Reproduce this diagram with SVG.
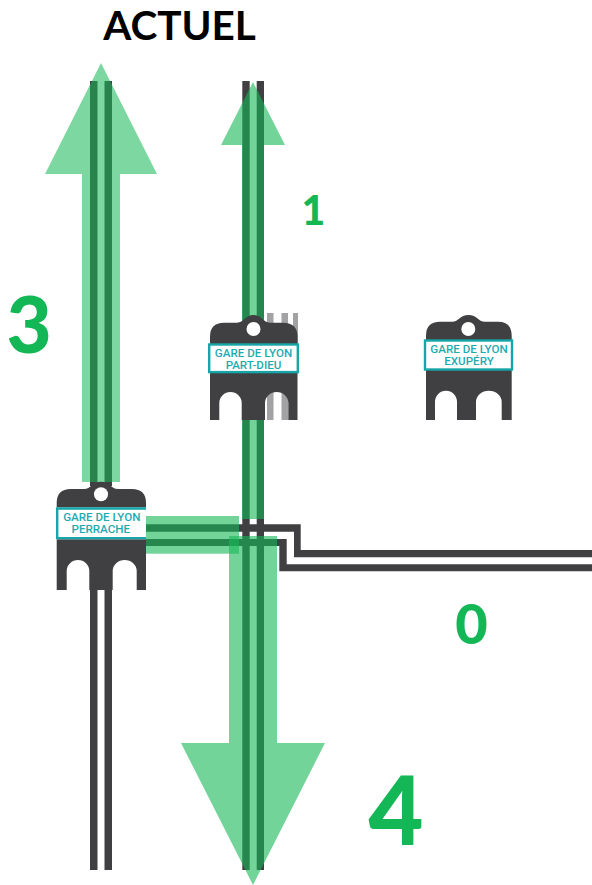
<svg xmlns="http://www.w3.org/2000/svg" width="592" height="885" viewBox="0 0 592 885">
<style>
.rail{fill:#404042}
.gray{fill:#a2a2a4}
.green{fill:#16b856;fill-opacity:.6}
.greenl{fill:#16b856;fill-opacity:.56}
.body{fill:#404042}
.hole{fill:#fff}
.label{fill:#fff}
.edge{fill:none;stroke:#16a5a8;stroke-width:2.4}
.lt{font-family:"Roboto","Liberation Sans",sans-serif;font-weight:500;font-size:11.6px;fill:#1eabb0;text-anchor:middle}
.num{font-family:"Lato","Open Sans",sans-serif;font-weight:900;fill:#14b755;text-anchor:middle}
</style>
<text x="179.500" y="39.500" font-family="Lato,'Open Sans',sans-serif" font-weight="700" font-size="40.500" fill="#000" text-anchor="middle">ACTUEL</text>
<g id="connectors">
<rect class="gray" x="267" y="313" width="6.500" height="107"/>
<rect class="gray" x="281.500" y="313" width="6.500" height="107"/>
<rect class="gray" x="293" y="313" width="5" height="30"/>
<rect class="rail" x="90" y="81" width="7.500" height="405"/>
<rect class="rail" x="104.500" y="81" width="7.500" height="405"/>
<rect class="rail" x="90" y="585" width="7.500" height="285"/>
<rect class="rail" x="104.500" y="585" width="7.500" height="285"/>
<rect class="rail" x="242.300" y="81" width="7.400" height="789"/>
<rect class="rail" x="256.700" y="81" width="7.300" height="789"/>
<path class="rail" d="M146 524.300H300.700V550H592V557.300H294V531.700H146Z"/>
<path class="rail" d="M146 539H286.700V564.300H592V571.300H279.300V546H146Z"/>
<path class="greenl" d="M101 63L157 174H120V482H82V174H45Z"/>
<path class="green" d="M253 82L285 145H264V519H242V145H221Z"/>
<rect class="green" x="146" y="516" width="93" height="37.700"/>
<path class="green" d="M229 536H277V743H325L253 885L181 743H229Z"/>
</g>
<g id="node-perrache">
<path class="body" d="M56.700 590V503Q56.700 489 70.700 489H84C91 489 92 481.700 101 481.700S111 489 118 489H132Q146 489 146 503V590H136.700V571A12 11 0 0 0 112.700 571V590H89.300V571A11.300 11 0 0 0 66.700 571V590Z"/>
<circle class="hole" cx="101" cy="494.300" r="7"/>
<rect class="label" x="56" y="507.300" width="90" height="32"/>
<path class="edge" d="M146 508.500H57.200V538.100H146"/>
<text class="lt" x="101.800" y="521">GARE DE LYON</text>
<text class="lt" x="100.800" y="533.300">PERRACHE</text>
</g>
<g id="node-part-dieu">
<path class="body" d="M210 420V336.700Q210 322.700 224 322.700H237C244 322.700 245 315 253.500 315S263 322.700 270 322.700H283Q297.500 322.700 297.500 336.700V420H288.300V403A11.650 11 0 0 0 265 403V420H241.700V403A11.200 11 0 0 0 219.300 403V420Z"/>
<circle class="hole" cx="253.500" cy="329" r="7"/>
<rect class="label edge" style="fill:#fff" x="209.200" y="344.500" width="88.600" height="27.600"/>
<text class="lt" x="253.500" y="357">GARE DE LYON</text>
<text class="lt" x="253.500" y="369.300">PART-DIEU</text>
</g>
<g id="node-exupery">
<path class="body" d="M426 420V335.700Q426 321.700 440 321.700H452C459 321.700 460 315 468.500 315S478 321.700 485 321.700H498Q511.700 321.700 511.700 335.700V420H501.700V402A12.850 11.300 0 0 0 476 402V420H457V402A11 11.300 0 0 0 435 402V420Z"/>
<circle class="hole" cx="468.300" cy="329" r="7"/>
<rect class="label edge" style="fill:#fff" x="425" y="340.500" width="87" height="29"/>
<text class="lt" x="469" y="352.500">GARE DE LYON</text>
<text class="lt" x="469" y="364.800">EXUPÉRY</text>
</g>
<text class="num" x="29" y="353" font-size="78">3</text>
<text class="num" x="313.500" y="225" font-size="41">1</text>
<text class="num" x="471.500" y="643.500" font-size="56">0</text>
<text class="num" x="396" y="845" font-size="95">4</text>
</svg>
